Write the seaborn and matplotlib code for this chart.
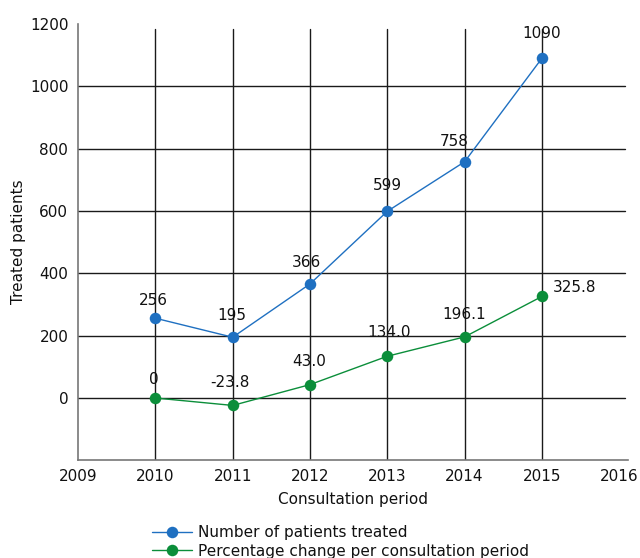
import matplotlib
matplotlib.use("Agg")
import matplotlib.pyplot as plt
import seaborn as sns
import pandas as pd

years = [2010, 2011, 2012, 2013, 2014, 2015]
patients = [256, 195, 366, 599, 758, 1090]
pct_change = [0, -23.8, 43.0, 134.0, 196.1, 325.8]
patient_labels = ["256", "195", "366", "599", "758", "1090"]
pct_labels = ["0", "-23.8", "43.0", "134.0", "196.1", "325.8"]
series_names = ["Number of patients treated", "Percentage change per consultation period"]

sns.set_theme(style="white")
plt.rcParams['font.family'] = ['DejaVu Sans']

df = pd.DataFrame({
    "year": years * 2,
    "value": patients + pct_change,
    "series": [series_names[0]] * len(years) + [series_names[1]] * len(years),
})

fig, ax = plt.subplots(figsize=(6.4, 5.58), dpi=100)
fig.subplots_adjust(left=0.122, right=0.982, top=0.957, bottom=0.175)

palette = {series_names[0]: "#1f70c1", series_names[1]: "#0b8e3a"}
sns.lineplot(data=df, x="year", y="value", hue="series", palette=palette,
             marker="o", markersize=8.3, markeredgewidth=0, linewidth=1.0, ax=ax, zorder=3)

ax.set_xlim(2009, 2016.12)
ax.set_ylim(-200, 1200)
ax.set_xticks(range(2009, 2017))
ax.set_yticks(range(0, 1201, 200))
ax.tick_params(axis="x", labelsize=11, length=0, pad=6, colors="#111111")
ax.tick_params(axis="y", labelsize=11, length=0, pad=7, colors="#111111")

# grid lines
for y in range(0, 1001, 200):
    ax.axhline(y, xmin=0, xmax=(2016.07 - 2009) / 7.12, color="#1a1a1a", lw=1, zorder=1)
for x in years:
    ax.plot([x, x], [-200, 1185], color="#1a1a1a", lw=1, zorder=1)

for s in ["top", "right"]:
    ax.spines[s].set_visible(False)
for s in ["left", "bottom"]:
    ax.spines[s].set_color("#777777")
    ax.spines[s].set_linewidth(1.2)

ax.set_xlabel("Consultation period", fontsize=11, labelpad=6, color="#111111")
ax.set_ylabel("Treated patients", fontsize=11, labelpad=3, color="#111111")

# label offsets in pixels (dx, dy up), converted to points
pat_offsets_px = [(-2, 18), (-1, 22), (-4, 21), (0, 26), (-10, 20), (0, 25)]
pct_offsets_px = [(-2, 19), (-3, 23), (-1, 23), (2, 24), (0, 22), (33, 9)]
k = 72 / 100
for x, y, t, o in zip(years, patients, patient_labels, pat_offsets_px):
    ax.annotate(t, (x, y), xytext=(o[0] * k, o[1] * k), textcoords="offset points",
                ha="center", va="center", fontsize=11, color="#111111", zorder=4)
for x, y, t, o in zip(years, pct_change, pct_labels, pct_offsets_px):
    ax.annotate(t, (x, y), xytext=(o[0] * k, o[1] * k), textcoords="offset points",
                ha="center", va="center", fontsize=11, color="#111111", zorder=4)

handles, labels = ax.get_legend_handles_labels()
ax.get_legend().remove()
fig.legend(handles, labels, loc="upper left", bbox_to_anchor=(152 / 640, 1 - 525 / 558),
           ncol=1, frameon=False, fontsize=11, handlelength=2.6, labelspacing=0.25,
           handletextpad=0.4, borderaxespad=0, borderpad=0, labelcolor="#111111")

fig.savefig("out.png", dpi=100)
